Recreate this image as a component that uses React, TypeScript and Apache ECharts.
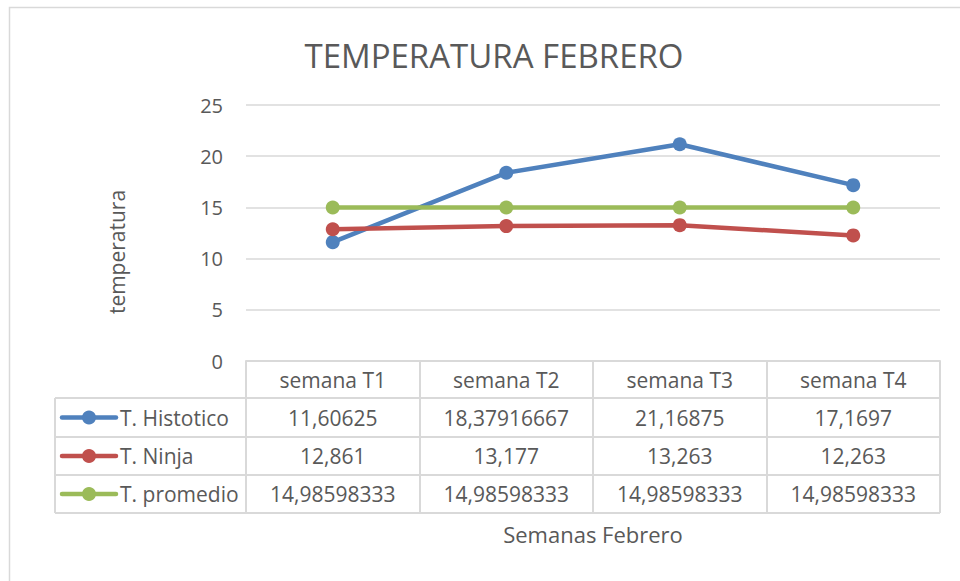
import React, { useEffect, useRef } from "react";
import * as echarts from "echarts";

const categories = ["semana T1", "semana T2", "semana T3", "semana T4"];
const seriesNames = ["T. Histotico", "T. Ninja", "T. promedio"];
const historico = [11.60625, 18.37916667, 21.16875, 17.1697];
const ninja = [12.861, 13.177, 13.263, 12.263];
const promedio = [14.98598333, 14.98598333, 14.98598333, 14.98598333];
const yTicks = { min: 0, max: 25, interval: 5 };

const COLORS = ["#4F81BD", "#C0504D", "#9BBB59"];
const FONT = "'Open Sans', 'Noto Sans', sans-serif";
const TEXT = "#595959";
const LINE = "#d9d9d9";

const GRID_LEFT = 246;
const GRID_RIGHT_X = 940;
const GRID_TOP = 105;
const AXIS_Y = 361;
const TABLE_LEFT = 55;
const ROW_LINES = [398, 437, 475, 513];

const fmt = (v: number) => String(v).replace(".", ",");

export default function App() {
  const ref = useRef<HTMLDivElement>(null);
  useEffect(() => {
    if (!ref.current) return;
    const chart = echarts.init(ref.current, undefined, { renderer: "svg" });
    const data = [historico, ninja, promedio];
    const colW = (GRID_RIGHT_X - GRID_LEFT) / categories.length;

    const graphics: any[] = [];
    graphics.push({
      type: "rect",
      shape: { x: 9.5, y: 7.5, width: 1200, height: 1200 },
      style: { fill: "none", stroke: LINE, lineWidth: 1.5 },
      silent: true,
    });
    ROW_LINES.forEach((y) => {
      graphics.push({
        type: "line",
        shape: { x1: TABLE_LEFT, y1: y, x2: GRID_RIGHT_X, y2: y },
        style: { stroke: LINE, lineWidth: 2 },
        silent: true,
      });
    });
    graphics.push({
      type: "line",
      shape: { x1: TABLE_LEFT, y1: ROW_LINES[0], x2: TABLE_LEFT, y2: ROW_LINES[ROW_LINES.length - 1] },
      style: { stroke: LINE, lineWidth: 2 },
      silent: true,
    });
    data.forEach((arr, r) => {
      const cy = (ROW_LINES[r] + ROW_LINES[r + 1]) / 2;
      graphics.push({
        type: "line",
        shape: { x1: 62, y1: cy, x2: 116, y2: cy },
        style: { stroke: COLORS[r], lineWidth: 4.5, lineCap: "round" },
        silent: true,
      });
      graphics.push({
        type: "circle",
        shape: { cx: 89, cy, r: 7 },
        style: { fill: COLORS[r] },
        silent: true,
      });
      graphics.push({
        type: "text",
        x: 120,
        y: cy,
        style: {
          text: seriesNames[r],
          font: `21px ${FONT}`,
          fill: TEXT,
          align: "left",
          verticalAlign: "middle",
        },
        silent: true,
      });
      arr.forEach((v, c) => {
        graphics.push({
          type: "text",
          x: GRID_LEFT + colW * (c + 0.5),
          y: cy,
          style: {
            text: fmt(v),
            font: `21px ${FONT}`,
            fill: TEXT,
            align: "center",
            verticalAlign: "middle",
          },
          silent: true,
        });
      });
    });
    graphics.push({
      type: "text",
      x: 117,
      y: 252,
      rotation: Math.PI / 2,
      style: {
        text: "temperatura",
        font: `21px ${FONT}`,
        fill: TEXT,
        align: "center",
        verticalAlign: "middle",
      },
      silent: true,
    });
    graphics.push({
      type: "text",
      x: 593,
      y: 534,
      style: {
        text: "Semanas Febrero",
        font: `22px ${FONT}`,
        fill: TEXT,
        align: "center",
        verticalAlign: "middle",
      },
      silent: true,
    });

    chart.setOption({
      animation: false,
      backgroundColor: "#ffffff",
      title: {
        text: "TEMPERATURA FEBRERO",
        left: 489,
        top: 50,
        textAlign: "center",
        textVerticalAlign: "middle",
        textStyle: { fontFamily: FONT, fontSize: 33, fontWeight: "normal", color: TEXT },
      },
      grid: {
        left: GRID_LEFT,
        right: 960 - GRID_RIGHT_X,
        top: GRID_TOP,
        bottom: 581 - AXIS_Y,
      },
      xAxis: {
        type: "category",
        data: categories,
        boundaryGap: true,
        axisLine: { show: true, lineStyle: { color: LINE, width: 2 } },
        axisTick: {
          show: true,
          interval: 0,
          length: ROW_LINES[ROW_LINES.length - 1] - AXIS_Y,
          lineStyle: { color: LINE, width: 2 },
        },
        axisLabel: {
          interval: 0,
          margin: 8,
          fontFamily: FONT,
          fontSize: 21,
          color: TEXT,
        },
        splitLine: { show: false },
      },
      yAxis: {
        type: "value",
        min: yTicks.min,
        max: yTicks.max,
        interval: yTicks.interval,
        axisLine: { show: false },
        axisTick: { show: false },
        axisLabel: { margin: 23, fontFamily: FONT, fontSize: 20, color: TEXT },
        splitLine: { lineStyle: { color: LINE, width: 1.5 } },
      },
      series: data.map((arr, i) => ({
        name: seriesNames[i],
        type: "line",
        data: arr,
        symbol: "circle",
        symbolSize: 14,
        lineStyle: { color: COLORS[i], width: 4.5 },
        itemStyle: { color: COLORS[i] },
        z: 2 + i,
      })),
      graphic: graphics,
    });
    return () => chart.dispose();
  }, []);
  return (
    <div
      ref={ref}
      style={{ position: "fixed", left: 0, top: 0, width: 960, height: 581, background: "#fff" }}
    />
  );
}
